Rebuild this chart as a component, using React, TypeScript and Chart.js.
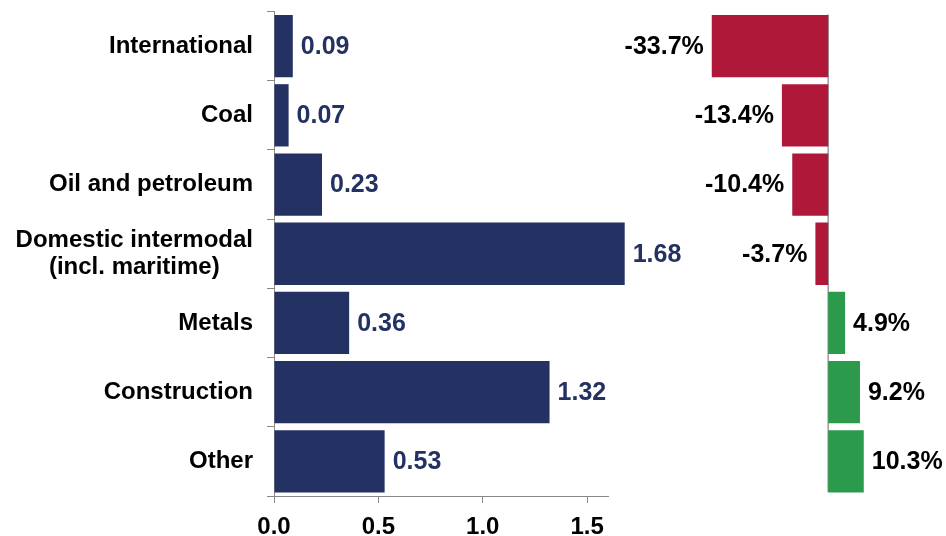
import React, { useEffect, useRef } from "react";
import { Chart, registerables } from "chart.js";

Chart.register(...registerables);

const categories: (string | string[])[] = [
  "International",
  "Coal",
  "Oil and petroleum",
  ["Domestic intermodal", "(incl. maritime)     "],
  "Metals",
  "Construction",
  "Other",
];
const volumes = [0.09, 0.07, 0.23, 1.68, 0.36, 1.32, 0.53];
const changes = [-33.7, -13.4, -10.4, -3.7, 4.9, 9.2, 10.3];
const volumeTicks = [0, 0.5, 1.0, 1.5];

const NAVY = "#243163";
const RED = "#AF1838";
const GREEN = "#2B9A4C";
const FONT = "'Liberation Sans', Arial, sans-serif";

export default function App() {
  const leftRef = useRef<HTMLCanvasElement | null>(null);
  const rightRef = useRef<HTMLCanvasElement | null>(null);

  useEffect(() => {
    const leftLabels = {
      id: "leftLabels",
      afterDatasetsDraw(chart: any) {
        const ctx = chart.ctx;
        const meta = chart.getDatasetMeta(0);
        ctx.save();
        ctx.font = `bold 25px ${FONT}`;
        ctx.fillStyle = NAVY;
        ctx.textAlign = "left";
        ctx.textBaseline = "middle";
        meta.data.forEach((bar: any, i: number) => {
          ctx.fillText(volumes[i].toFixed(2), bar.x + 8, bar.y + 1);
        });
        ctx.restore();
      },
    };

    const left = new Chart(leftRef.current as HTMLCanvasElement, {
      type: "bar",
      data: {
        labels: categories as any,
        datasets: [
          {
            data: volumes,
            backgroundColor: NAVY,
            barPercentage: 0.9,
            categoryPercentage: 1,
            clip: false,
          },
        ],
      },
      options: {
        indexAxis: "y",
        animation: false,
        responsive: false,
        devicePixelRatio: 1,
        layout: { padding: { top: 11.5, right: 338, left: 0, bottom: 0 } },
        plugins: { legend: { display: false }, tooltip: { enabled: false } },
        scales: {
          x: {
            min: 0,
            max: 1.6,
            afterBuildTicks: (s: any) => {
              s.ticks = volumeTicks.map((v) => ({ value: v }));
            },
            ticks: {
              includeBounds: false,
              callback: (v: any) => Number(v).toFixed(1),
              font: { family: FONT, size: 24, weight: "bold" },
              color: "#000",
              padding: 10,
              maxRotation: 0,
            },
            grid: {
              drawOnChartArea: false,
              drawTicks: true,
              tickLength: 7,
              color: "#888",
            },
            border: { display: true, color: "#888" },
            afterFit: (s: any) => {
              s.height = 40;
              s.paddingLeft = 0;
              s.paddingRight = 0;
            },
          },
          y: {
            ticks: {
              font: { family: FONT, size: 24, weight: "bold", lineHeight: 1.12 },
              color: "#000",
              padding: 14,
            },
            grid: {
              drawOnChartArea: false,
              drawTicks: true,
              tickLength: 7,
              color: "#888",
              offset: true,
            },
            border: { display: true, color: "#888" },
            afterFit: (s: any) => {
              s.width = 274;
              s.paddingTop = 0;
              s.paddingBottom = 0;
            },
          },
        },
      },
      plugins: [leftLabels],
    } as any);

    const rightDecor = {
      id: "rightDecor",
      beforeDatasetsDraw(chart: any) {
        const ctx = chart.ctx;
        const x0 = chart.scales.x.getPixelForValue(0);
        const a = chart.chartArea;
        ctx.save();
        ctx.strokeStyle = "#999";
        ctx.lineWidth = 1.5;
        ctx.beginPath();
        ctx.moveTo(x0, a.top + 3);
        ctx.lineTo(x0, a.bottom - 4);
        ctx.stroke();
        ctx.restore();
      },
      afterDatasetsDraw(chart: any) {
        const ctx = chart.ctx;
        const meta = chart.getDatasetMeta(0);
        ctx.save();
        ctx.font = `bold 25px ${FONT}`;
        ctx.fillStyle = "#000";
        ctx.textBaseline = "middle";
        meta.data.forEach((bar: any, i: number) => {
          const v = changes[i];
          const txt = v.toFixed(1) + "%";
          if (v < 0) {
            ctx.textAlign = "right";
            ctx.fillText(txt, bar.x - 8, bar.y + 1);
          } else {
            ctx.textAlign = "left";
            ctx.fillText(txt, bar.x + 8, bar.y + 1);
          }
        });
        ctx.restore();
      },
    };

    const right = new Chart(rightRef.current as HTMLCanvasElement, {
      type: "bar",
      data: {
        labels: categories as any,
        datasets: [
          {
            data: changes,
            backgroundColor: changes.map((v) => (v < 0 ? RED : GREEN)),
            barPercentage: 0.9,
            categoryPercentage: 1,
          },
        ],
      },
      options: {
        indexAxis: "y",
        animation: false,
        responsive: false,
        devicePixelRatio: 1,
        layout: { padding: { top: 11.5, right: 66, left: 690, bottom: 40 } },
        plugins: { legend: { display: false }, tooltip: { enabled: false } },
        scales: {
          x: { display: false, min: -40, max: 15 },
          y: { display: false },
        },
      },
      plugins: [rightDecor],
    } as any);

    return () => {
      left.destroy();
      right.destroy();
    };
  }, []);

  return (
    <div
      style={{
        position: "absolute",
        left: 0,
        top: 0,
        width: 946,
        height: 536,
        background: "#fff",
      }}
    >
      <canvas
        ref={leftRef}
        width={946}
        height={536}
        style={{ position: "absolute", left: 0, top: 0 }}
      />
      <canvas
        ref={rightRef}
        width={946}
        height={536}
        style={{ position: "absolute", left: 0, top: 0 }}
      />
    </div>
  );
}
